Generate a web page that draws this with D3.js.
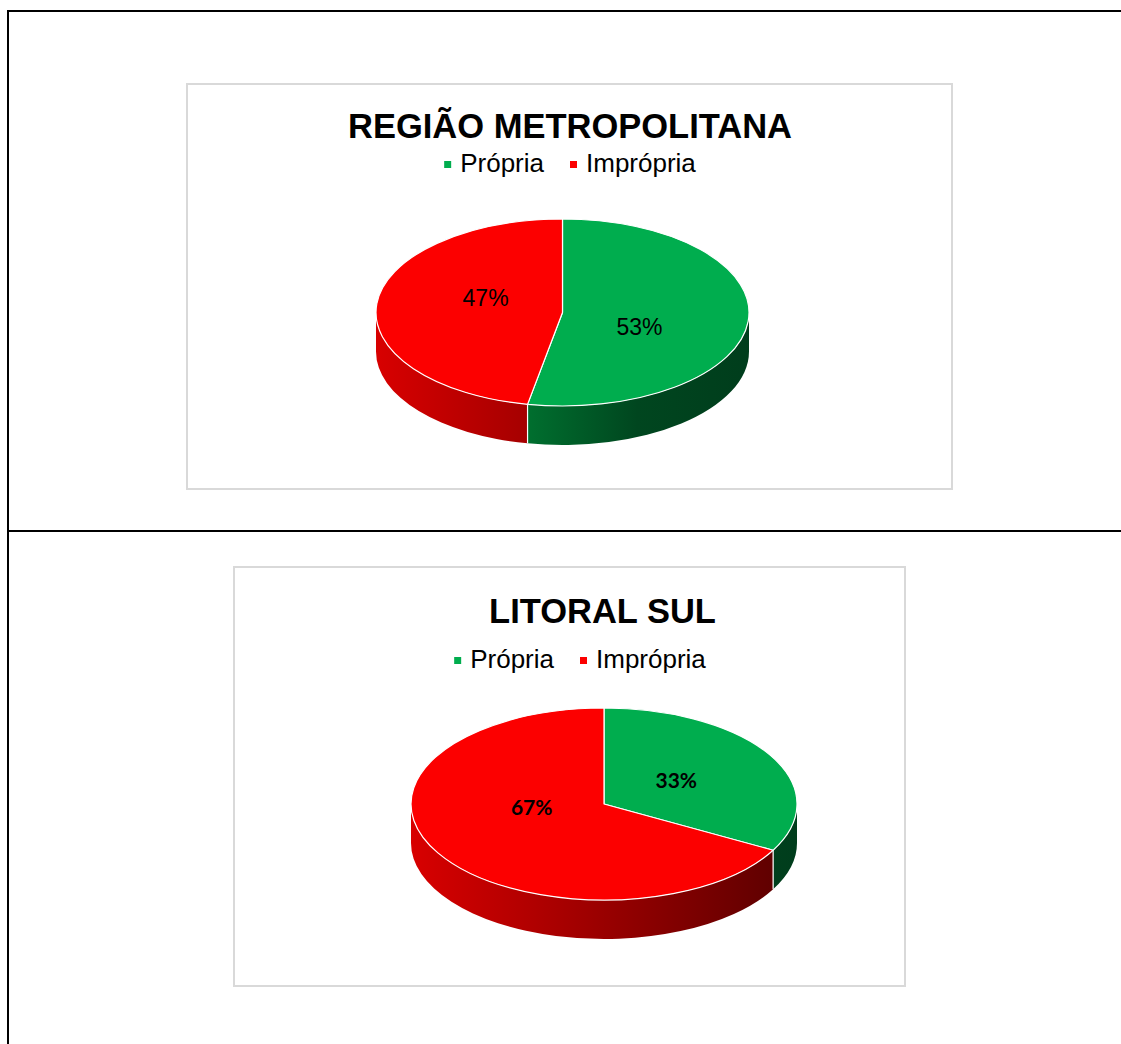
<!DOCTYPE html>
<html>
<head>
<meta charset="utf-8">
<script src="https://cdn.jsdelivr.net/npm/d3@7"></script>
<style>
  body { margin: 0; background: #fff; }
  svg { display: block; }
</style>
</head>
<body>
<svg width="1121" height="1044"></svg>
<script>
// chart data
var categories = ["Própria", "Imprópria"];
var metroValues = [53, 47];
var litoralValues = [33, 67];
var titles = ["REGIÃO METROPOLITANA", "LITORAL SUL"];

var svg = d3.select("svg");
var defs = svg.append("defs");

var color = d3.scaleOrdinal()
	.domain(categories)
	.range(["#00ad4e", "#fc0000"]);

// side wall gradients (dark to the right, like the excel bevel)
var sideStops = {
	"Própria": [[0, "#00a040"], [0.4, "#00702f"], [0.7, "#00461f"], [1, "#003d1c"]],
	"Imprópria": [[0, "#d80000"], [0.4, "#a60000"], [1, "#580000"]]
};

// table lines behind the charts
svg.append("line").attr("x1", 7).attr("x2", 1121).attr("y1", 11).attr("y2", 11)
	.attr("stroke", "#000").attr("stroke-width", 2);
svg.append("line").attr("x1", 8).attr("x2", 8).attr("y1", 10).attr("y2", 1044)
	.attr("stroke", "#000").attr("stroke-width", 2);
svg.append("line").attr("x1", 7).attr("x2", 1121).attr("y1", 531).attr("y2", 531)
	.attr("stroke", "#000").attr("stroke-width", 2);

var charts = [
	{ id: "metro", title: titles[0], values: metroValues,
	  box: { x: 187, y: 84, w: 765, h: 405 },
	  titleX: 570, titleY: 138, legendX: 570, legendY: 172,
	  cx: 562.5, cy: 312.5, rx: 186.5, ry: 93.5, depth: 39,
	  labelFont: "normal 23px 'Liberation Sans', Arial, sans-serif",
	  labelR: 0.44, labelTurn: 15, labelDy: 0 },
	{ id: "litoral", title: titles[1], values: litoralValues,
	  box: { x: 234, y: 567, w: 671, h: 419 },
	  titleX: 602.5, titleY: 623, legendX: 580, legendY: 668,
	  cx: 604, cy: 804, rx: 193, ry: 96, depth: 39,
	  labelFont: "bold 21px Lato, 'Open Sans', sans-serif",
	  labelR: 0.4, labelTurn: 10, labelDy: -9.5 }
];

var pct = d3.format(".0%");

charts.forEach(function (c) {
	var g = svg.append("g");

	g.append("rect")
		.attr("x", c.box.x).attr("y", c.box.y)
		.attr("width", c.box.w).attr("height", c.box.h)
		.attr("fill", "#fff")
		.attr("stroke", "#d9d9d9")
		.attr("stroke-width", 2);

	g.append("text")
		.attr("x", c.titleX).attr("y", c.titleY)
		.attr("text-anchor", "middle")
		.style("font", "bold 34.5px 'Liberation Sans', Arial, sans-serif")
		.style("fill", "#000")
		.text(c.title);

	// legend
	var leg = g.append("g");
	var lx = 0;
	categories.forEach(function (cat, i) {
		var item = leg.append("g").attr("transform", "translate(" + lx + ",0)");
		item.append("rect")
			.attr("x", 0).attr("y", -11).attr("width", 7).attr("height", 7)
			.attr("fill", color(cat));
		var t = item.append("text")
			.attr("x", 16).attr("y", 0)
			.style("font", "26px 'Liberation Sans', Arial, sans-serif")
			.style("fill", "#000")
			.text(cat);
		lx += 16 + t.node().getComputedTextLength() + 26;
	});
	var lw = lx - 26;
	leg.attr("transform", "translate(" + (c.legendX - lw / 2) + "," + c.legendY + ")");

	// gradients for this pie
	categories.forEach(function (cat, i) {
		var grad = defs.append("linearGradient")
			.attr("id", c.id + "-side-" + i)
			.attr("gradientUnits", "userSpaceOnUse")
			.attr("x1", c.cx - c.rx).attr("x2", c.cx + c.rx)
			.attr("y1", 0).attr("y2", 0);
		sideStops[cat].forEach(function (s) {
			grad.append("stop").attr("offset", s[0]).attr("stop-color", s[1]);
		});
	});

	var arcs = d3.pie().sort(null).startAngle(0).endAngle(2 * Math.PI)(c.values);

	function pt(a, dy) {
		return [c.cx + c.rx * Math.sin(a), c.cy - c.ry * Math.cos(a) + (dy || 0)];
	}

	// side walls (front half only: angles between 90 and 270 degrees)
	var side = g.append("g");
	arcs.forEach(function (d, i) {
		var s0 = Math.max(d.startAngle, Math.PI / 2);
		var s1 = Math.min(d.endAngle, 3 * Math.PI / 2);
		if (s1 <= s0) return;
		var p0 = pt(s0), p1 = pt(s1), q1 = pt(s1, c.depth), q0 = pt(s0, c.depth);
		var path = "M" + p0 + "A" + c.rx + "," + c.ry + " 0 0 1 " + p1 +
			"L" + q1 + "A" + c.rx + "," + c.ry + " 0 0 0 " + q0 + "Z";
		side.append("path")
			.attr("d", path)
			.attr("fill", "url(#" + c.id + "-side-" + i + ")");
	});
	// white edge where slices meet on the front wall
	arcs.forEach(function (d) {
		var a = d.startAngle;
		if (a > Math.PI / 2 && a < 3 * Math.PI / 2) {
			var p = pt(a), q = pt(a, c.depth);
			side.append("line")
				.attr("x1", p[0]).attr("y1", p[1]).attr("x2", q[0]).attr("y2", q[1])
				.attr("stroke", "#fff").attr("stroke-width", 1.2);
		}
	});

	// top faces
	var top = g.append("g");
	arcs.forEach(function (d, i) {
		var p0 = pt(d.startAngle), p1 = pt(d.endAngle);
		var large = (d.endAngle - d.startAngle) > Math.PI ? 1 : 0;
		var path = "M" + c.cx + "," + c.cy + "L" + p0 +
			"A" + c.rx + "," + c.ry + " 0 " + large + " 1 " + p1 + "Z";
		top.append("path")
			.attr("d", path)
			.attr("fill", color(categories[i]))
			.attr("stroke", "#fff")
			.attr("stroke-width", 1.2)
			.attr("stroke-linejoin", "round");
	});

	// data labels
	var total = d3.sum(c.values);
	arcs.forEach(function (d, i) {
		var mid = (d.startAngle + d.endAngle) / 2 + c.labelTurn * Math.PI / 180;
		var x = c.cx + c.labelR * c.rx * Math.sin(mid);
		var y = c.cy - c.labelR * c.ry * Math.cos(mid) + c.labelDy;
		g.append("text")
			.attr("x", x).attr("y", y)
			.attr("dy", "0.35em")
			.attr("text-anchor", "middle")
			.style("font", c.labelFont)
			.style("fill", "#000")
			.text(pct(d.data / total));
	});
});
</script>
</body>
</html>
